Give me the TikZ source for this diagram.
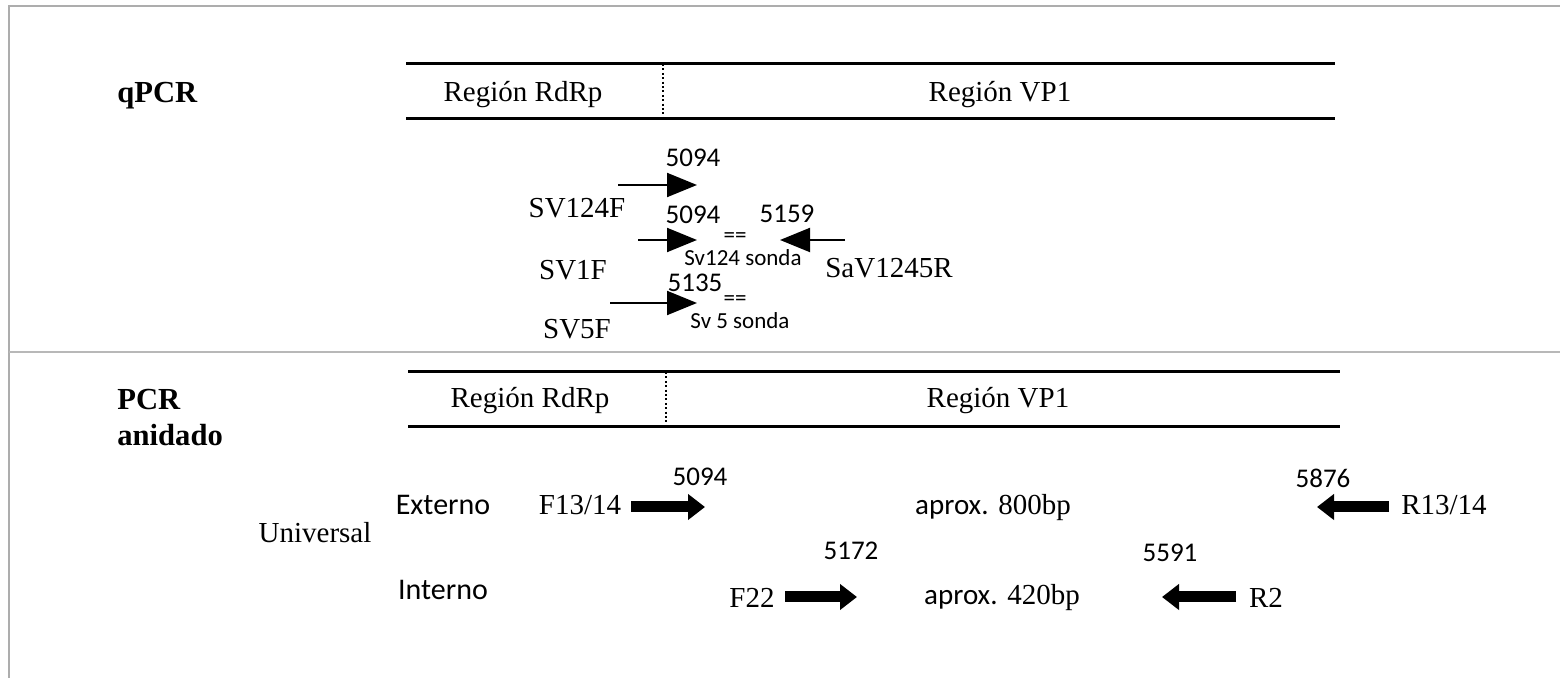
\documentclass[tikz,border=0pt]{standalone}
\usepackage{fontspec}
\setmainfont{Liberation Serif}
\newfontfamily\numfont{Carlito}
\usetikzlibrary{arrows.meta}

\begin{document}
\begin{tikzpicture}[x=0.5pt, y=-0.5pt,
  outer/.style={draw=black!32, line width=1pt},
  divider/.style={draw=black!28, line width=0.6pt},
  regionline/.style={line width=1.5pt},
  boundary/.style={line width=1pt, dash pattern=on 1pt off 1.2pt},
  lbl/.style={inner sep=0pt, anchor=base, font=\fontsize{14.5}{17}\selectfont},
  headlbl/.style={inner sep=0pt, anchor=base west, font=\bfseries\fontsize{15.3}{18}\selectfont},
  coord/.style={inner sep=0pt, anchor=base, font=\numfont\fontsize{13.5}{16}\selectfont},
  probe/.style={inner sep=0pt, anchor=base, font=\numfont\fontsize{11.5}{14}\selectfont},
  setlbl/.style={inner sep=0pt, anchor=base, font=\numfont\fontsize{15}{18}\selectfont},
  primer/.style={line width=1pt, -{Triangle[length=15pt, width=12pt]}},
  bigprimer/.style={line width=5.5pt, -{Triangle[length=8.5pt, width=12.5pt]}}
]
  \useasboundingbox (0,0) rectangle (1560,678);
  % frame and section divider
  \draw[outer] (9,678) -- (9,6) -- (1560,6);
  \draw[divider] (9,352) -- (1560,352);

  % qPCR
  \node[headlbl] (qpcr) at (117,103) {qPCR};
  \draw[regionline] (406,64) -- (1335,64);
  \draw[regionline] (406,119) -- (1335,119);
  \draw[boundary] (663,64) -- (663,119);
  \node[lbl] (rdrpa) at (523,102) {Región RdRp};
  \node[lbl] (vpa) at (1000,102) {Región VP1};

  \draw[primer] (618,185) -- (697,185);
  \node[coord] (pa) at (693,167) {5094};
  \node[lbl] (sv124f) at (577,218) {SV124F};
  \draw[primer] (638,240) -- (697,240);
  \node[coord] (pb) at (693,224) {5094};
  \node[coord] (pc) at (787,223) {5159};
  \draw[primer] (845,240) -- (780,240);
  \node[probe] (eqa) at (735,243) {==};
  \node[probe] (sondaa) at (743,266) {Sv124 sonda};
  \node[lbl] (sv1f) at (573,280) {SV1F};
  \node[lbl] (sav1245r) at (889,278) {SaV1245R};
  \node[coord] (pd) at (695,292) {5135};
  \draw[primer] (610,303) -- (697,303);
  \node[probe] (eqb) at (735,306) {==};
  \node[probe] (sondab) at (740,329) {Sv 5 sonda};
  \node[lbl] (sv5f) at (577,339) {SV5F};

  % PCR anidado
  \node[headlbl] (pcr) at (117,410) {PCR};
  \node[headlbl] (anidado) at (117,446) {anidado};
  \draw[regionline] (408,372) -- (1340,372);
  \draw[regionline] (408,427) -- (1340,427);
  \draw[boundary] (666,372) -- (666,427);
  \node[lbl] (rdrpb) at (530,408) {Región RdRp};
  \node[lbl] (vpb) at (998,408) {Región VP1};

  \node[setlbl] (externo) at (443,515) {Externo};
  \node[lbl] (universal) at (315,543) {Universal};
  \node[setlbl] (interno) at (443,600) {Interno};

  \node[lbl] (f1314) at (580,515) {F13/14};
  \draw[bigprimer] (631,507) -- (705,507);
  \node[coord] (pe) at (700,486) {5094};
  \node[lbl] (aprox800) at (993,515) {{\numfont aprox.} 800bp};
  \node[coord] (pf) at (1323,488) {5876};
  \draw[bigprimer] (1389,507) -- (1317,507);
  \node[lbl] (r1314) at (1444,515) {R13/14};

  \node[lbl] (f22) at (752,608) {F22};
  \draw[bigprimer] (785,597) -- (857,597);
  \node[coord] (pg) at (851,560) {5172};
  \node[lbl] (aprox420) at (1002,605) {{\numfont aprox.} 420bp};
  \node[coord] (ph) at (1170,562) {5591};
  \draw[bigprimer] (1236,597) -- (1162,597);
  \node[lbl] (r2) at (1266,608) {R2};
\end{tikzpicture}
\end{document}
